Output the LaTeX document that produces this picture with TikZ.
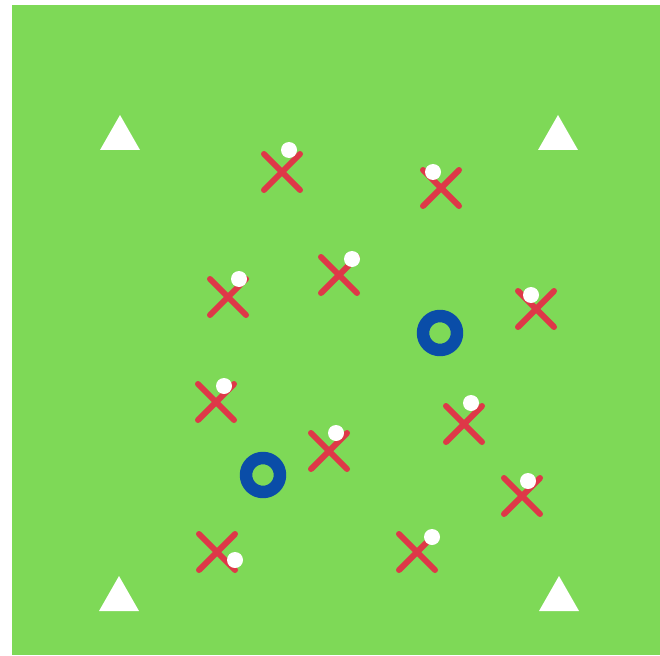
\documentclass[tikz,border=0pt]{standalone}
\definecolor{pitch}{HTML}{7ED957}
\definecolor{shirt}{HTML}{DE3848}
\definecolor{hoop}{HTML}{0A4DA8}
\tikzset{
  player/.style={shirt, line width=6pt, line cap=round},
  ball/.style={fill=white},
  cone/.style={fill=white},
  hoopring/.style={hoop, line width=12.5pt}
}
\begin{document}
\begin{tikzpicture}[x=1pt, y=-1pt, line join=round]
    % parameters
    \def\A{18}
    \def\B{8}
    \useasboundingbox (0,0) rectangle (660,655);

    % pitch
    \fill[pitch] (12,5) rectangle (660,655);

    % corner cones
    \foreach \cx/\cy in {120/150, 558/150, 119/611, 559/611} {
      \fill[cone] (\cx-20,\cy) -- (\cx,\cy-35) -- (\cx+20,\cy) -- cycle;
    }

    % hoops
    \foreach \hx/\hy in {440/333, 263/475} {
      \draw[hoopring] (\hx,\hy) circle (17);
    }

    % players with a ball each
    \foreach \px/\py/\bx/\by in {
        282/172/289/150, 441/188/433/172, 339/275/352/259,
        228/297/239/279, 536/309/531/295, 216/402/224/386,
        464/424/471/403, 329/451/336/433, 522/496/528/481,
        217/552/235/560, 417/552/432/537} {
      \draw[player] (\px-\A,\py-\A) -- (\px+\A,\py+\A);
      \draw[player] (\px-\A,\py+\A) -- (\px+\A,\py-\A);
      \fill[ball] (\bx,\by) circle (\B);
    }
\end{tikzpicture}
\end{document}
